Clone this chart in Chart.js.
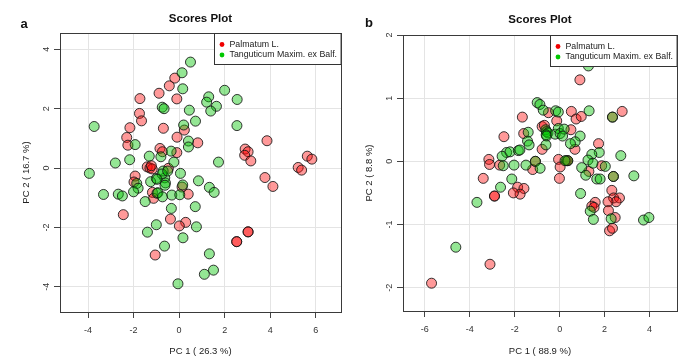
<!DOCTYPE html>
<html>
<head>
<meta charset="utf-8">
<script src="https://cdn.jsdelivr.net/npm/chart.js@4.4.1/dist/chart.umd.min.js"></script>
<style>
  body { margin: 0; background: #fff; }
  canvas { position: absolute; top: 0; }
  #scoresA { left: 0; }
  #scoresB { left: 350px; }
</style>
</head>
<body>
<canvas id="scoresA" width="350" height="361"></canvas>
<canvas id="scoresB" width="350" height="361"></canvas>
<script>
const groupNames = ["Palmatum L.", "Tanguticum Maxim. ex Balf."];
const groupFill = ["rgba(255, 0, 0, 0.4)", "rgba(0, 195, 0, 0.42)"];
const groupDot = ["#f00000", "#00c800"];

// panel a : PC1 (26.3 %) vs PC2 (16.7 %)
const palmatumA = [
    [-0.19, 3.03], [-0.43, 2.77], [-0.88, 2.52], [-0.1, 2.33], [-1.72, 2.34], [-1.74, 1.84],
    [-1.65, 1.59], [-2.16, 1.36], [-0.69, 1.34], [0.23, 1.28], [-2.3, 1.03], [-2.25, 0.77],
    [-0.09, 1.04], [0.82, 0.85], [3.86, 0.92], [2.9, 0.64], [3.03, 0.55], [2.88, 0.43],
    [3.15, 0.24], [-0.84, 0.66], [-0.73, 0.55], [-0.1, 0.52], [5.63, 0.4], [5.83, 0.3],
    [5.23, 0.02], [5.38, -0.07], [-1.4, 0.04], [-1.28, 0.0], [-1.18, -0.03], [-1.22, 0.08],
    [-0.47, -0.01], [-1.93, -0.27], [-1.98, -0.47], [3.77, -0.32], [4.12, -0.62], [0.13, -0.64],
    [-1.17, -0.82], [-1.12, -1.02], [0.4, -0.88], [-2.45, -1.57], [-0.38, -1.72], [0.29, -1.83],
    [0.01, -1.95], [-1.05, -2.93], [3.03, -2.15], [3.03, -2.15], [2.53, -2.48], [2.53, -2.48]
];
const tanguticumA = [
    [0.5, 3.57], [0.13, 3.21], [0.16, 2.67], [1.3, 2.4], [1.21, 2.22], [1.64, 2.08],
    [1.39, 1.92], [2.0, 2.62], [2.55, 2.31], [2.54, 1.43], [-0.74, 2.05], [-0.66, 2.0],
    [0.45, 1.95], [0.2, 1.45], [0.72, 1.58], [0.41, 0.91], [0.41, 0.71], [-1.93, 0.79],
    [-3.73, 1.4], [-2.17, 0.28], [-2.8, 0.17], [-3.94, -0.18], [-1.31, 0.4], [-0.8, 0.38],
    [-0.35, 0.57], [-0.23, 0.2], [1.73, 0.2], [0.06, -0.18], [-1.0, -0.35], [-0.63, -0.33],
    [-0.7, -0.1], [-0.75, -0.2], [-0.6, -0.5], [-0.62, -0.58], [-1.25, -0.46], [-1.86, -0.52],
    [-1.8, -0.68], [-2.0, -0.8], [0.16, -0.57], [0.85, -0.43], [1.33, -0.65], [1.54, -0.82],
    [-3.32, -0.89], [-2.67, -0.88], [-2.49, -0.94], [-0.97, -0.85], [-0.93, -0.83], [-0.73, -0.97],
    [-0.32, -0.91], [0.03, -0.9], [-1.49, -1.13], [-0.34, -1.36], [0.71, -1.3], [0.76, -1.98],
    [-1.0, -1.91], [-1.39, -2.16], [0.17, -2.35], [-0.64, -2.63], [1.33, -2.89], [1.51, -3.44],
    [1.11, -3.58], [-0.05, -3.9], [-0.97, -0.38], [-0.5, -0.1]
];

// panel b : PC1 (88.9 %) vs PC2 (8.8 %)
const palmatumB = [
    [0.9, 1.29], [-0.5, 0.77], [-1.66, 0.7], [0.52, 0.79], [0.73, 0.67], [0.96, 0.71],
    [2.78, 0.79], [2.35, 0.7], [-0.13, 0.64], [-0.78, 0.55], [-0.68, 0.57], [0.5, 0.5],
    [0.68, 0.19], [1.73, 0.28], [-2.48, 0.39], [-1.6, 0.44], [-0.78, 0.19], [-3.15, 0.03],
    [-3.12, -0.05], [-2.67, -0.06], [-1.2, -0.13], [-1.08, 0.0], [-0.05, 0.03], [0.3, 0.01],
    [0.36, 0.01], [0.02, -0.09], [1.87, -0.07], [1.3, -0.16], [-0.01, -0.27], [-3.4, -0.27],
    [2.39, -0.24], [-1.87, -0.41], [-1.59, -0.43], [-1.76, -0.52], [-2.06, -0.5], [-2.9, -0.55],
    [-2.9, -0.55], [2.32, -0.46], [2.4, -0.58], [2.66, -0.58], [2.51, -0.64], [2.15, -0.64],
    [1.58, -0.65], [1.43, -0.71], [1.53, -0.73], [2.17, -0.78], [2.47, -0.89], [2.22, -1.1],
    [2.35, -1.06], [-3.1, -1.63], [-5.7, -1.93]
];
const tanguticumB = [
    [1.28, 1.51], [-1.0, 0.93], [-0.88, 0.9], [-0.73, 0.81], [-0.18, 0.8], [-0.06, 0.78],
    [1.31, 0.8], [2.35, 0.7], [-1.4, 0.46], [-1.43, 0.32], [-1.36, 0.26], [-0.62, 0.5],
    [-0.58, 0.47], [-0.52, 0.45], [-0.6, 0.42], [-0.58, 0.4], [-0.61, 0.26], [-0.2, 0.43],
    [-0.06, 0.52], [0.02, 0.44], [0.2, 0.51], [0.13, 0.4], [0.91, 0.4], [0.69, 0.31],
    [0.48, 0.28], [1.76, 0.14], [1.43, 0.11], [2.72, 0.09], [1.26, 0.02], [1.48, -0.03],
    [0.98, -0.1], [2.03, -0.08], [-2.36, 0.14], [-2.56, 0.08], [-2.21, 0.15], [-1.84, 0.17],
    [-1.77, 0.18], [-2.03, -0.06], [-2.51, -0.07], [-1.5, -0.06], [-1.08, 0.0], [-0.87, -0.11],
    [0.36, 0.01], [0.24, 0.01], [-2.13, -0.28], [-2.63, -0.41], [-3.68, -0.65], [0.93, -0.51],
    [1.16, -0.22], [1.65, -0.28], [1.8, -0.28], [2.39, -0.24], [3.3, -0.23], [1.36, -0.79],
    [1.5, -0.92], [2.29, -0.91], [3.73, -0.93], [3.97, -0.89], [-4.62, -1.36]
];

const FONT = "'Liberation Sans', Arial, sans-serif";

function toPoints(arr) {
    return arr.map(p => ({x: p[0], y: p[1]}));
}

// frame, title, panel letter and the R style legend
const decor = {
    id: 'decor',
    afterDraw(chart) {
        const o = chart.options.plugins.decor;
        const ctx = chart.ctx;
        const ca = chart.chartArea;
        ctx.save();
        ctx.strokeStyle = '#3a3a3a';
        ctx.lineWidth = 1;
        ctx.strokeRect(Math.round(ca.left) + 0.5, Math.round(ca.top) + 0.5,
            Math.round(ca.right - ca.left), Math.round(ca.bottom - ca.top));

        ctx.fillStyle = '#111';
        ctx.textAlign = 'center';
        ctx.textBaseline = 'middle';
        ctx.font = 'bold 11.5px ' + FONT;
        ctx.fillText('Scores Plot', (ca.left + ca.right) / 2, o.titleY);
        ctx.font = 'bold 13px ' + FONT;
        ctx.fillText(o.letter, o.letterX, o.letterY);

        // legend
        ctx.font = '8.8px ' + FONT;
        const tw = Math.max(...groupNames.map(n => ctx.measureText(n).width));
        const w = tw + 19, h = 31;
        const x = Math.round(ca.right - w) + 0.5, y = Math.round(ca.top) + 0.5;
        ctx.fillStyle = '#fff';
        ctx.fillRect(x, y, w, h);
        ctx.strokeStyle = '#333';
        ctx.strokeRect(x, y, w, h);
        ctx.textAlign = 'left';
        groupNames.forEach((n, i) => {
            const ly = y + 11 + i * 10.5;
            ctx.fillStyle = groupDot[i];
            ctx.beginPath();
            ctx.arc(x + 7.5, ly, 2.4, 0, Math.PI * 2);
            ctx.fill();
            ctx.fillStyle = '#222';
            ctx.fillText(n, x + 15, ly);
        });
        ctx.restore();
    }
};

function makeScores(id, red, green, lay) {
    return new Chart(document.getElementById(id), {
        type: 'scatter',
        data: {
            datasets: [red, green].map((d, i) => ({
                label: groupNames[i],
                data: toPoints(d),
                order: 1 - i,   // green drawn over red
                backgroundColor: groupFill[i],
                borderColor: 'rgba(20, 20, 20, 0.85)',
                borderWidth: 1,
                pointRadius: 5,
                pointHoverRadius: 5
            }))
        },
        options: {
            responsive: false,
            animation: false,
            devicePixelRatio: 1,
            layout: {padding: {top: lay.top, right: lay.right, left: 0, bottom: 0}},
            plugins: {
                legend: {display: false},
                tooltip: {enabled: false},
                decor: lay
            },
            scales: {
                x: {
                    type: 'linear',
                    min: lay.xMin, max: lay.xMax,
                    afterFit: s => { s.height = lay.xh; },
                    ticks: {stepSize: lay.xStep, includeBounds: false, padding: 7,
                        color: '#333', font: {family: FONT, size: 9}},
                    grid: {color: '#e4e4e4', tickColor: '#444', tickLength: 6},
                    border: {display: false},
                    title: {display: true, text: lay.xTitle, color: '#222',
                        font: {family: FONT, size: 9.5}, padding: {top: 0, bottom: 4}}
                },
                y: {
                    type: 'linear',
                    min: lay.yMin, max: lay.yMax,
                    afterFit: s => { s.width = lay.yw; },
                    ticks: {stepSize: lay.yStep, includeBounds: false, padding: 3,
                        minRotation: 90, maxRotation: 90, crossAlign: 'center',
                        color: '#333', font: {family: FONT, size: 9}},
                    grid: {color: '#e4e4e4', tickColor: '#444', tickLength: 6},
                    border: {display: false},
                    title: {display: true, text: lay.yTitle, color: '#222',
                        font: {family: FONT, size: 9.5}, padding: {top: lay.yTitlePad, bottom: 0}}
                }
            }
        },
        plugins: [decor]
    });
}

makeScores('scoresA', palmatumA, tanguticumA, {
    top: 33, right: 9, xh: 49, yw: 60,
    xMin: -5.23, xMax: 7.11, xStep: 2, yMin: -4.85, yMax: 4.55, yStep: 2,
    xTitle: 'PC 1 ( 26.3 %)', yTitle: 'PC 2 ( 16.7 %)', yTitlePad: 21,
    titleY: 18.5, letter: 'a', letterX: 24, letterY: 24
});

makeScores('scoresB', palmatumB, tanguticumB, {
    top: 35, right: 23, xh: 50, yw: 53,
    xMin: -6.97, xMax: 5.22, xStep: 2, yMin: -2.37, yMax: 2, yStep: 1,
    xTitle: 'PC 1 ( 88.9 %)', yTitle: 'PC 2 ( 8.8 %)', yTitlePad: 14,
    titleY: 19.5, letter: 'b', letterX: 19, letterY: 23.5
});
</script>
</body>
</html>
